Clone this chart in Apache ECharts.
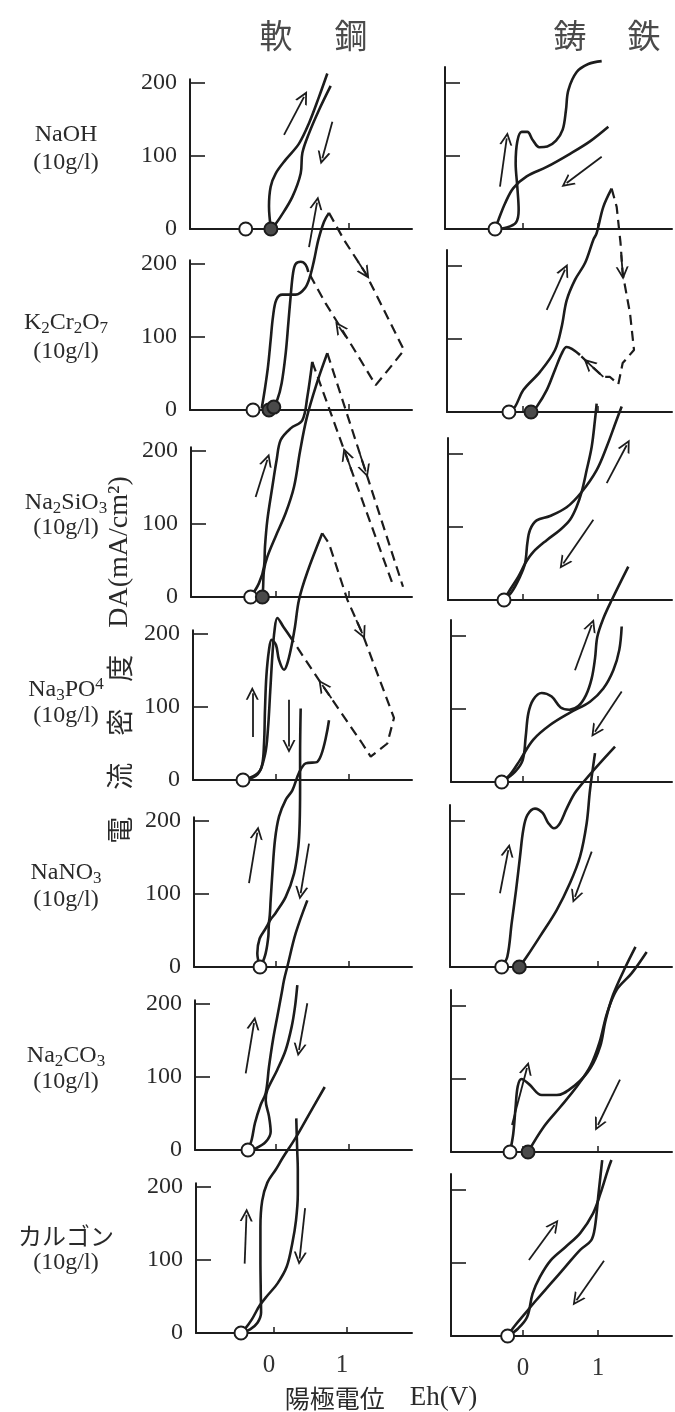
<!DOCTYPE html>
<html><head><meta charset="utf-8">
<script src="https://cdn.jsdelivr.net/npm/echarts@6/dist/echarts.min.js"></script>
<style>html,body{margin:0;padding:0;background:#fff}#c{width:675px;height:1412px}</style>
</head><body><div id="c"></div>
<script>
// ---------- texts ----------
const columnTitles = [['軟', '鋼'], ['鋳', '鉄']];
const reagentLabels = [
  '{n|NaOH}',
  '{n|K}{s|2}{n|Cr}{s|2}{n|O}{s|7}',
  '{n|Na}{s|2}{n|SiO}{s|3}',
  '{n|Na}{s|3}{n|PO}{u|4}',
  '{n|NaNO}{s|3}',
  '{n|Na}{s|2}{n|CO}{s|3}',
  '{k|カルゴン}'
];
const concentrationLabel = '(10g/l)';
const yAxisTitle = '{c|電　流　密　度　}{l|DA(mA/cm²)}';
const xAxisTitle = '{c|陽極電位　}{l|Eh(V)}';
const xTickValues = [0, 1];
const yTickValues = [0, 100, 200];

// ---------- data: [potential V, current density mA/cm2] ----------
// Row 1 NaOH
const r1L_fwd = [[-0.07,0],[-0.096,31],[-0.073,58],[-0.005,76],[0.133,95],[0.315,117],[0.452,145],[0.589,181],[0.703,213]];
const r1L_ret = [[0.749,196],[0.589,163],[0.452,131],[0.361,104],[0.338,76],[0.224,44],[0.064,17],[-0.05,1]];
const r1L_open = [[-0.415,0]];
const r1L_filled = [[-0.07,0]];
const r1L_arrows = [[[0.11,129],[0.384,181]], [[0.772,147],[0.635,97]]];

const r1R_fwd = [[-0.373,0],[-0.217,2],[-0.093,9],[-0.058,26],[-0.076,58],[-0.098,90],[-0.076,120],[-0.018,133],[0.058,133],[0.129,122],[0.218,112],[0.324,113],[0.44,121],[0.529,136],[0.573,163],[0.604,190],[0.716,215],[0.871,226],[1.049,230]];
const r1R_ret = [[1.138,140],[0.893,120],[0.627,103],[0.316,85],[0.049,72],[-0.129,56],[-0.24,35],[-0.329,12],[-0.373,0]];
const r1R_open = [[-0.373,0]];
const r1R_arrows = [[[-0.307,58],[-0.217,124]], [[1.049,99],[0.582,63]]];

// Row 2 K2Cr2O7
const r2L_fwd = [[-0.196,2],[-0.155,27],[-0.11,59],[-0.073,96],[-0.041,128],[0.005,151],[0.087,158],[0.269,158],[0.397,167],[0.466,183],[0.521,205],[0.58,233],[0.658,258],[0.726,270]];
const r2L_dash = [[0.726,270],[0.932,233],[1.229,187],[1.753,82],[1.594,62],[1.366,34],[1.046,87],[0.68,146],[0.443,189]];
const r2L_ret = [[0.443,189],[0.406,199],[0.338,203],[0.269,200],[0.233,187],[0.2,155],[0.169,119],[0.133,78],[0.078,37],[0.018,14],[-0.041,5]];
const r2L_open = [[-0.315,0]];
const r2L_filled = [[-0.096,0],[-0.03,4]];
const r2L_arrows = [[[0.452,223],[0.562,284]], [[1.125,203],[1.229,187]], [[0.959,100],[0.863,114]]];

const r2R_fwd = [[-0.187,0],[-0.107,7],[0.004,30],[0.227,55],[0.427,85],[0.516,117],[0.582,153],[0.693,181],[0.827,204],[0.938,236],[0.982,245],[1.071,281],[1.182,306]];
const r2R_dash = [[1.182,306],[1.249,281],[1.3,232],[1.329,190],[1.427,135],[1.48,85],[1.329,67],[1.271,38],[1.16,48],[1.071,48],[0.871,67],[0.76,78]];
const r2R_ret = [[0.76,78],[0.582,89],[0.516,80],[0.427,58],[0.316,30],[0.182,7],[0.116,0]];
const r2R_open = [[-0.187,0]];
const r2R_filled = [[0.107,0]];
const r2R_arrows = [[[0.316,140],[0.56,195]], [[1.31,215],[1.329,190]], [[1.071,48],[0.871,67]]];

// Row 3 Na2SiO3
const r3L_fwd = [[-0.347,0],[-0.233,19],[-0.164,42],[-0.151,69],[-0.119,105],[-0.05,151],[0.009,188],[0.064,215],[0.201,231],[0.36,242],[0.429,274],[0.497,322]];
const r3L_dash1 = [[0.497,322],[1.593,19]];
const r3L_dash2 = [[0.703,334],[1.74,14]];
const r3L_ret = [[0.703,334],[0.55,290],[0.42,245],[0.33,200],[0.247,151],[0.133,115],[-0.005,83],[-0.119,55],[-0.164,37],[-0.178,10],[-0.187,0]];
const r3L_open = [[-0.347,0]];
const r3L_filled = [[-0.187,0]];
const r3L_arrows = [[[-0.279,137],[-0.119,188]], [[1.04,172],[0.954,196]], [[1.15,196],[1.229,172]]];

const r3R_fwd = [[-0.253,0],[-0.151,11],[-0.049,30],[0.027,50],[0.058,78],[0.093,96],[0.182,109],[0.36,115],[0.582,127],[0.782,148],[0.982,178],[1.116,210],[1.249,247],[1.316,265]];
const r3R_ret = [[0.982,269],[0.96,247],[0.916,210],[0.849,178],[0.782,148],[0.716,128],[0.627,110],[0.493,96],[0.316,82],[0.138,66],[0.04,52],[-0.062,32],[-0.173,14],[-0.253,0]];
const r3R_open = [[-0.253,0]];
const r3R_arrows = [[[1.116,160],[1.382,212]], [[0.938,110],[0.538,50]]];

// Row 4 Na3PO4
const r4L_fwd = [[-0.452,0],[-0.279,7],[-0.196,18],[-0.164,50],[-0.151,96],[-0.132,142],[-0.096,178],[-0.06,192],[0.0,185],[0.04,165],[0.11,151],[0.15,158],[0.201,178],[0.26,210],[0.315,247],[0.43,285],[0.634,338]];
const r4L_dash = [[0.634,338],[0.726,324],[0.977,247],[1.182,201],[1.616,85],[1.525,50],[1.297,32],[1.182,50],[0.634,130],[0.223,192]];
const r4L_ret = [[0.223,192],[0.1,210],[0.018,222],[-0.02,205],[-0.05,170],[-0.08,120],[-0.11,70],[-0.15,35],[-0.25,8],[-0.452,0]];
const r4L_open = [[-0.452,0]];
const r4L_arrows = [[[-0.325,59],[-0.325,119]], [[0.178,110],[0.178,46]], [[1.1,219],[1.182,201]], [[0.76,112],[0.634,130]]];

const r4R_fwd = [[-0.284,0],[-0.107,14],[-0.004,30],[0.036,62],[0.071,94],[0.138,113],[0.249,122],[0.382,117],[0.502,102],[0.618,99],[0.738,104],[0.84,119],[0.916,142],[0.96,169],[0.991,199],[1.071,224],[1.182,249],[1.404,295]];
const r4R_ret = [[1.316,213],[1.284,181],[1.204,153],[1.071,128],[0.893,110],[0.627,95],[0.36,78],[0.138,58],[-0.04,30],[-0.173,10],[-0.284,0]];
const r4R_open = [[-0.284,0]];
const r4R_arrows = [[[0.693,153],[0.916,215]], [[1.316,124],[0.96,69]]];

// Row 5 NaNO3
const r5L_fwd = [[-0.219,0],[-0.256,19],[-0.224,39],[-0.141,53],[-0.096,62],[-0.073,92],[-0.05,128],[-0.014,174],[0.041,206],[0.133,229],[0.224,242],[0.315,266],[0.407,279],[0.566,281],[0.726,338]];
const r5L_ret = [[0.338,354],[0.33,290],[0.33,242],[0.324,197],[0.306,165],[0.247,128],[0.133,96],[-0.005,74],[-0.096,60],[-0.105,42],[-0.141,19],[-0.196,3],[-0.219,0]];
const r5L_open = [[-0.219,0]];
const r5L_arrows = [[[-0.37,115],[-0.256,184]], [[0.452,169],[0.338,101]]];

const r5R_fwd = [[-0.284,0],[-0.209,14],[-0.151,60],[-0.093,105],[-0.04,151],[0.004,188],[0.058,208],[0.16,217],[0.262,211],[0.338,197],[0.413,190],[0.493,197],[0.582,217],[0.716,242],[1.227,302]];
const r5R_ret = [[0.96,293],[0.893,242],[0.849,197],[0.76,151],[0.627,115],[0.449,78],[0.227,42],[0.049,14],[-0.049,0]];
const r5R_open = [[-0.284,0]];
const r5R_filled = [[-0.049,0]];
const r5R_arrows = [[[-0.307,101],[-0.196,160]], [[0.916,158],[0.693,96]]];

// Row 6 Na2CO3
const r6L_fwd = [[-0.384,0],[-0.333,14],[-0.288,37],[-0.21,62],[-0.141,78],[-0.096,114],[-0.041,151],[0.018,183],[0.078,215],[0.11,233],[0.155,251],[0.27,297],[0.429,342]];
const r6L_ret = [[0.292,226],[0.26,196],[0.215,169],[0.133,137],[0.018,110],[-0.119,82],[-0.141,68],[-0.096,46],[-0.073,25],[-0.141,11],[-0.278,2],[-0.37,0]];
const r6L_open = [[-0.384,0]];
const r6L_arrows = [[[-0.415,105],[-0.301,174]], [[0.429,201],[0.315,137]]];

const r6R_fwd = [[-0.173,0],[-0.13,25],[-0.1,60],[-0.07,90],[-0.02,100],[0.08,93],[0.25,78],[0.45,78],[0.7,92],[0.9,115],[1.03,145],[1.1,180],[1.2,215],[1.35,250],[1.5,281]];
const r6R_ret = [[1.649,274],[1.45,245],[1.249,222],[1.12,190],[1.02,150],[0.9,118],[0.72,90],[0.5,62],[0.28,35],[0.067,0]];
const r6R_open = [[-0.173,0]];
const r6R_filled = [[0.067,0]];
const r6R_arrows = [[[-0.147,37],[0.053,115]], [[1.293,99],[1.0,37]]];

// Row 7 カルゴン
const r7L_fwd = [[-0.452,0],[-0.327,5],[-0.226,14],[-0.177,28],[-0.181,55],[-0.186,100],[-0.186,145],[-0.162,181],[-0.091,206],[0.025,224],[0.12,240],[0.3,268],[0.5,303],[0.695,337]];
const r7L_ret = [[0.305,294],[0.318,250],[0.326,225],[0.326,190],[0.301,154],[0.251,123],[0.175,91],[0.049,68],[-0.101,50],[-0.201,37],[-0.301,19],[-0.402,5],[-0.452,0]];
const r7L_open = [[-0.452,0]];
const r7L_arrows = [[[-0.402,95],[-0.377,162]], [[0.426,171],[0.351,102]]];

const r7R_fwd = [[-0.205,0],[-0.068,10],[0.055,26],[0.128,58],[0.226,81],[0.372,104],[0.567,122],[0.763,141],[0.934,168],[1.032,195],[1.13,227],[1.179,241]];
const r7R_ret = [[1.056,241],[1.007,195],[0.959,149],[0.909,131],[0.763,118],[0.567,95],[0.372,72],[0.176,49],[0.029,31],[-0.117,13],[-0.205,0]];
const r7R_open = [[-0.205,0]];
const r7R_arrows = [[[0.079,104],[0.42,152]], [[1.08,103],[0.713,49]]];

const panels = [
  {row:0, col:0, solid:[r1L_fwd, r1L_ret], dashed:[], open:r1L_open, filled:r1L_filled, arrows:r1L_arrows},
  {row:0, col:1, solid:[r1R_fwd, r1R_ret], dashed:[], open:r1R_open, filled:[], arrows:r1R_arrows},
  {row:1, col:0, solid:[r2L_fwd, r2L_ret], dashed:[r2L_dash], open:r2L_open, filled:r2L_filled, arrows:r2L_arrows},
  {row:1, col:1, solid:[r2R_fwd, r2R_ret], dashed:[r2R_dash], open:r2R_open, filled:r2R_filled, arrows:r2R_arrows},
  {row:2, col:0, solid:[r3L_fwd, r3L_ret], dashed:[r3L_dash1, r3L_dash2], open:r3L_open, filled:r3L_filled, arrows:r3L_arrows},
  {row:2, col:1, solid:[r3R_fwd, r3R_ret], dashed:[], open:r3R_open, filled:[], arrows:r3R_arrows},
  {row:3, col:0, solid:[r4L_fwd, r4L_ret], dashed:[r4L_dash], open:r4L_open, filled:[], arrows:r4L_arrows},
  {row:3, col:1, solid:[r4R_fwd, r4R_ret], dashed:[], open:r4R_open, filled:[], arrows:r4R_arrows},
  {row:4, col:0, solid:[r5L_fwd, r5L_ret], dashed:[], open:r5L_open, filled:[], arrows:r5L_arrows},
  {row:4, col:1, solid:[r5R_fwd, r5R_ret], dashed:[], open:r5R_open, filled:r5R_filled, arrows:r5R_arrows},
  {row:5, col:0, solid:[r6L_fwd, r6L_ret], dashed:[], open:r6L_open, filled:[], arrows:r6L_arrows},
  {row:5, col:1, solid:[r6R_fwd, r6R_ret], dashed:[], open:r6R_open, filled:r6R_filled, arrows:r6R_arrows},
  {row:6, col:0, solid:[r7L_fwd, r7L_ret], dashed:[], open:r7L_open, filled:[], arrows:r7L_arrows},
  {row:6, col:1, solid:[r7R_fwd, r7R_ret], dashed:[], open:r7R_open, filled:[], arrows:r7R_arrows}
];

// ---------- layout (pixels) ----------
const L_AXIS_X = [190,190,191,193,194,195,196], L_END_X = 412, L_PX_PER_V = 73;
const L_ZERO_X = [276,276,276,276,276,276,274];
const R_AXIS_X = [445,447,448,451,450,451,451], R_END_X = 672, R_ZERO_X = 523, R_PX_PER_V = 75;
const L_BASE_Y = [229,410,597,780,967,1150,1333];
const R_BASE_Y = [229,412,600,782,967,1152,1336];
const PX_PER_MA = 0.73, L_Y_MAX = 205, R_Y_MAX = 222;
const LABEL_Y = [[135,163],[323,352],[503,528],[690,716],[873,900],[1056,1082],[1236,1263]];

const INK = '#1c1c1c';
const SERIF = '"Liberation Serif","DejaVu Serif",serif';
const CJK = '"Noto Sans CJK JP",sans-serif';
const CHEVRON = 'path://M6,0L12,11L10.2,11L6,3.4L1.8,11L0,11Z';

const grids = [], xAxes = [], yAxes = [], series = [];
panels.forEach((p, i) => {
  const left = p.col === 0;
  const axisX = left ? L_AXIS_X[p.row] : R_AXIS_X[p.row];
  const endX = left ? L_END_X : R_END_X;
  const zeroX = left ? L_ZERO_X[p.row] : R_ZERO_X;
  const pxV = left ? L_PX_PER_V : R_PX_PER_V;
  const base = left ? L_BASE_Y[p.row] : R_BASE_Y[p.row];
  const yMax = left ? L_Y_MAX : R_Y_MAX;
  const h = yMax * PX_PER_MA;
  grids.push({left: axisX, top: base - h, width: endX - axisX, height: h});
  xAxes.push({
    gridIndex: i, type: 'value',
    min: (axisX - zeroX) / pxV, max: (endX - zeroX) / pxV,
    axisLine: {show: true, onZero: false, lineStyle: {color: INK, width: 2}},
    axisTick: {show: true, inside: true, length: 6, customValues: xTickValues, lineStyle: {color: INK, width: 1.5}},
    axisLabel: {show: p.row === 6, customValues: xTickValues, margin: 20, fontSize: 25, fontFamily: SERIF, color: '#333',
                padding: left ? [0, 10, 0, 0] : 0},
    splitLine: {show: false}
  });
  yAxes.push({
    gridIndex: i, type: 'value', min: 0, max: yMax,
    axisLine: {show: true, onZero: false, lineStyle: {color: INK, width: 2}},
    axisTick: {show: true, inside: true, length: 15, customValues: yTickValues, lineStyle: {color: INK, width: 1.6}},
    axisLabel: {show: left, customValues: yTickValues, margin: 13, fontSize: 24, fontFamily: SERIF, color: '#2a2a2a'},
    splitLine: {show: false}
  });
  p.solid.forEach(d => series.push({
    type: 'line', xAxisIndex: i, yAxisIndex: i, data: d, smooth: 0.35, symbol: 'none',
    clip: false, silent: true, z: 2, lineStyle: {color: INK, width: 2.6}
  }));
  p.dashed.forEach(d => series.push({
    type: 'line', xAxisIndex: i, yAxisIndex: i, data: d, smooth: false, symbol: 'none',
    clip: false, silent: true, z: 2, lineStyle: {color: INK, width: 2.2, type: [10, 6]}
  }));
  series.push({
    type: 'lines', coordinateSystem: 'cartesian2d', xAxisIndex: i, yAxisIndex: i,
    data: p.arrows.map(c => ({coords: c})), symbol: ['none', CHEVRON], symbolSize: 13,
    clip: false, silent: true, z: 3, lineStyle: {color: INK, width: 1.8, opacity: 1}
  });
  series.push({
    type: 'scatter', xAxisIndex: i, yAxisIndex: i, data: p.open, symbolSize: 13, clip: false, z: 5, silent: true,
    itemStyle: {color: '#fff', borderColor: INK, borderWidth: 2, opacity: 1}
  });
  if (p.filled.length) series.push({
    type: 'scatter', xAxisIndex: i, yAxisIndex: i, data: p.filled, symbolSize: 13, clip: false, z: 6, silent: true,
    itemStyle: {color: '#4a4a4a', borderColor: INK, borderWidth: 2, opacity: 1}
  });
});

const richLabel = {
  n: {fontFamily: SERIF, fontSize: 24, lineHeight: 28, fill: '#2a2a2a'},
  s: {fontFamily: SERIF, fontSize: 17, lineHeight: 16, verticalAlign: 'bottom', fill: '#2a2a2a'},
  u: {fontFamily: SERIF, fontSize: 17, lineHeight: 16, verticalAlign: 'top', fill: '#2a2a2a'},
  k: {fontFamily: CJK, fontSize: 24, lineHeight: 28, fill: '#2a2a2a'}
};
function txt(x, y, text, rich, extra) {
  return Object.assign({type: 'text', x: x, y: y, silent: true,
    style: {text: text, rich: rich, align: 'center', verticalAlign: 'middle', textAlign: 'center', textVerticalAlign: 'middle', fill: '#2a2a2a'}}, extra || {});
}
const graphics = [];
const titleX = [[276, 351], [570, 644]];
columnTitles.forEach((t, c) => t.forEach((ch, k) => graphics.push(txt(titleX[c][k], 35, ch, null))));
graphics.forEach(g => { g.style.fontFamily = CJK; g.style.fontSize = 33; g.style.fill = '#4a4a4a'; });
reagentLabels.forEach((lab, r) => {
  graphics.push(txt(66, LABEL_Y[r][0], lab, richLabel));
  graphics.push(txt(66, LABEL_Y[r][1], '{n|' + concentrationLabel + '}', richLabel));
});
graphics.push(txt(120, 660, yAxisTitle, {
  c: {fontFamily: CJK, fontSize: 27, fill: '#2a2a2a'},
  l: {fontFamily: SERIF, fontSize: 28, fill: '#2a2a2a'}
}, {rotation: Math.PI / 2}));
graphics.push(txt(381, 1398, xAxisTitle, {
  c: {fontFamily: CJK, fontSize: 25, fill: '#2a2a2a'},
  l: {fontFamily: SERIF, fontSize: 27, fill: '#2a2a2a'}
}));

const chart = echarts.init(document.getElementById('c'), null, {renderer: 'canvas'});
chart.setOption({
  backgroundColor: '#fff', animation: false,
  grid: grids, xAxis: xAxes, yAxis: yAxes, series: series, graphic: graphics
});
</script></body></html>
